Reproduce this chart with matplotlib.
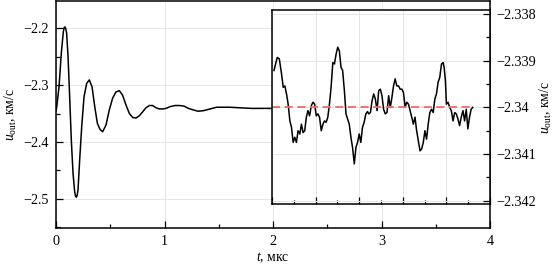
import matplotlib
matplotlib.use('Agg')
import matplotlib.pyplot as plt
from matplotlib.ticker import MultipleLocator

plt.rcParams['font.family'] = ['Liberation Serif', 'DejaVu Serif']
plt.rcParams['mathtext.fontset'] = 'custom'
plt.rcParams['mathtext.rm'] = 'Liberation Serif'
plt.rcParams['mathtext.it'] = 'Liberation Serif:italic'
plt.rcParams['font.size'] = 10.2

# main curve, t in us, u in km/s
t_main = [0.0, 0.006, 0.028, 0.049, 0.068, 0.076, 0.083, 0.090, 0.098, 0.111, 0.126, 0.141,
          0.157, 0.172, 0.180, 0.187, 0.195, 0.203, 0.218, 0.237, 0.258, 0.283, 0.307, 0.332,
          0.357, 0.381, 0.406, 0.43, 0.461, 0.491, 0.522, 0.553, 0.584, 0.614,
          0.645, 0.676, 0.707, 0.737, 0.768, 0.799, 0.829, 0.86, 0.891, 0.922,
          0.952, 0.983, 1.014, 1.051, 1.097, 1.137, 1.18, 1.22, 1.27, 1.31,
          1.36, 1.4, 1.44, 1.48, 1.55, 1.6, 1.7, 1.8, 1.9, 2.0]
u_main = [-2.345, -2.340, -2.303, -2.244, -2.206, -2.199, -2.198, -2.201, -2.209, -2.250, -2.321, -2.396,
          -2.455, -2.487, -2.495, -2.497, -2.494, -2.484, -2.432, -2.373, -2.321, -2.297, -2.291, -2.303,
          -2.338, -2.367, -2.378, -2.382, -2.370, -2.344, -2.323, -2.312, -2.310, -2.318,
          -2.335, -2.350, -2.357, -2.358, -2.354, -2.347, -2.340, -2.336, -2.336, -2.340,
          -2.342, -2.342, -2.341, -2.338, -2.336, -2.336, -2.337, -2.341, -2.344, -2.346,
          -2.345, -2.343, -2.341, -2.339, -2.339, -2.339, -2.340, -2.341, -2.341, -2.341]

# zoomed part of the same signal
t_zoom = [2.018, 2.048, 2.067, 2.088, 2.103, 2.118, 2.133, 2.148, 2.164, 2.179,
          2.194, 2.209, 2.224, 2.239, 2.255, 2.270, 2.285, 2.300, 2.315, 2.330,
          2.345, 2.361, 2.376, 2.391, 2.406, 2.421, 2.436, 2.452, 2.467, 2.482,
          2.497, 2.512, 2.527, 2.542, 2.558, 2.573, 2.588, 2.603, 2.618, 2.633,
          2.648, 2.664, 2.679, 2.694, 2.709, 2.724, 2.739, 2.755, 2.770, 2.785,
          2.800, 2.815, 2.830, 2.845, 2.861, 2.876, 2.888, 2.903, 2.918, 2.933,
          2.948, 2.964, 2.979, 2.994, 3.009, 3.024, 3.039, 3.055, 3.070, 3.085,
          3.100, 3.115, 3.130, 3.145, 3.161, 3.176, 3.191, 3.206, 3.221, 3.236,
          3.252, 3.267, 3.282, 3.297, 3.312, 3.327, 3.342, 3.358, 3.373, 3.388,
          3.403, 3.418, 3.433, 3.448, 3.464, 3.479, 3.494, 3.509, 3.524, 3.539,
          3.555, 3.570, 3.579, 3.591, 3.600, 3.615, 3.630, 3.645, 3.661, 3.676,
          3.691, 3.706, 3.721, 3.736, 3.752, 3.767, 3.782, 3.797, 3.812, 3.827,
          3.842]
u_zoom = [-2.33921, -2.33893, -2.33896, -2.33929, -2.33957, -2.33954, -2.33971, -2.33993, -2.34029, -2.34043,
          -2.34075, -2.34064, -2.34075, -2.34050, -2.34057, -2.34036, -2.34054, -2.34050, -2.34021, -2.34007,
          -2.34018, -2.33996, -2.33989, -2.33993, -2.34018, -2.34014, -2.34021, -2.34050, -2.34036, -2.34029,
          -2.34032, -2.34021, -2.33993, -2.33957, -2.33904, -2.33907, -2.33886, -2.33871, -2.33879, -2.33914,
          -2.33921, -2.33964, -2.34014, -2.34025, -2.34036, -2.34064, -2.34086, -2.34121, -2.34086, -2.34075,
          -2.34057, -2.34075, -2.34043, -2.34032, -2.34014, -2.34009, -2.34014, -2.34011, -2.33986, -2.33971,
          -2.33982, -2.34007, -2.33964, -2.33961, -2.33975, -2.34004, -2.34014, -2.34011, -2.33975, -2.34000,
          -2.33979, -2.33954, -2.33939, -2.33954, -2.33954, -2.33961, -2.33961, -2.33968, -2.34000, -2.33989,
          -2.33993, -2.34007, -2.34021, -2.34036, -2.34021, -2.34050, -2.34071, -2.34093, -2.34089, -2.34075,
          -2.34050, -2.34068, -2.34036, -2.34011, -2.34004, -2.34011, -2.33982, -2.33971, -2.33946, -2.33936,
          -2.33907, -2.33904, -2.33914, -2.33943, -2.33993, -2.33989, -2.34000, -2.34007, -2.34029, -2.34011,
          -2.34014, -2.34025, -2.34039, -2.34021, -2.34007, -2.34029, -2.34004, -2.34046, -2.34021, -2.34004,
          -2.34000]
u_mean = -2.34

ylab = r'$u_{\rm out}$, км/с'
grid_col = '#e6e6e6'

fig = plt.figure(figsize=(5.58, 2.64), dpi=100)
ax = fig.add_axes([56/558, 36/264, 434/558, 227/264])
ax.plot(t_main, u_main, color='black', lw=1.1)
ax.set_xlim(0, 4)
ax.set_ylim(-2.551, -2.1525)
ax.xaxis.set_major_locator(MultipleLocator(1))
ax.xaxis.set_minor_locator(MultipleLocator(0.5))
ax.yaxis.set_major_locator(MultipleLocator(0.1))
ax.yaxis.set_minor_locator(MultipleLocator(0.05))
ax.tick_params(which='both', direction='in', top=False, right=False, pad=5)
ax.tick_params(which='major', length=5, width=0.9)
ax.tick_params(which='minor', length=3, width=0.9)
ax.grid(True, which='major', color=grid_col, lw=0.7)
ax.set_axisbelow(True)
ax.set_xlabel(r'$t$, мкс', labelpad=2, fontsize=9.8)
ax.set_ylabel(ylab, labelpad=3, fontsize=9.8)
for s in ax.spines.values():
    s.set_linewidth(1.1)

# inset
ins = fig.add_axes([272/558, 60/264, 218/558, 193.7/264])
ins.plot(t_zoom, u_zoom, color='black', lw=1.1)
ins.plot([t_zoom[0] - 0.018, t_zoom[-1]], [u_mean, u_mean], color='#f06a6a',
         lw=1.3, dashes=(4.5, 2.5))
ins.set_xlim(2, 4)
ins.set_ylim(-2.34207, -2.33792)
ins.xaxis.set_major_locator(MultipleLocator(0.4))
ins.xaxis.set_minor_locator(MultipleLocator(0.2))
ins.yaxis.set_major_locator(MultipleLocator(0.001))
ins.yaxis.set_minor_locator(MultipleLocator(0.0005))
ins.tick_params(which='both', direction='in', left=False, labelleft=False,
                right=True, labelright=True, labelbottom=False, pad=4.5)
ins.tick_params(which='major', length=5, width=0.9)
ins.tick_params(which='minor', length=3, width=0.9)
ins.yaxis.set_major_formatter(plt.FuncFormatter(lambda v, p: ('%.3f' % v).rstrip('0').replace('-', '\u2212')))
ins.grid(True, which='major', color=grid_col, lw=0.7)
ins.set_axisbelow(True)
ins.yaxis.set_label_position('right')
ins.set_ylabel(ylab, labelpad=1.5, fontsize=9.8)
for s in ins.spines.values():
    s.set_linewidth(1.1)

fig.savefig('out.png', dpi=100)
